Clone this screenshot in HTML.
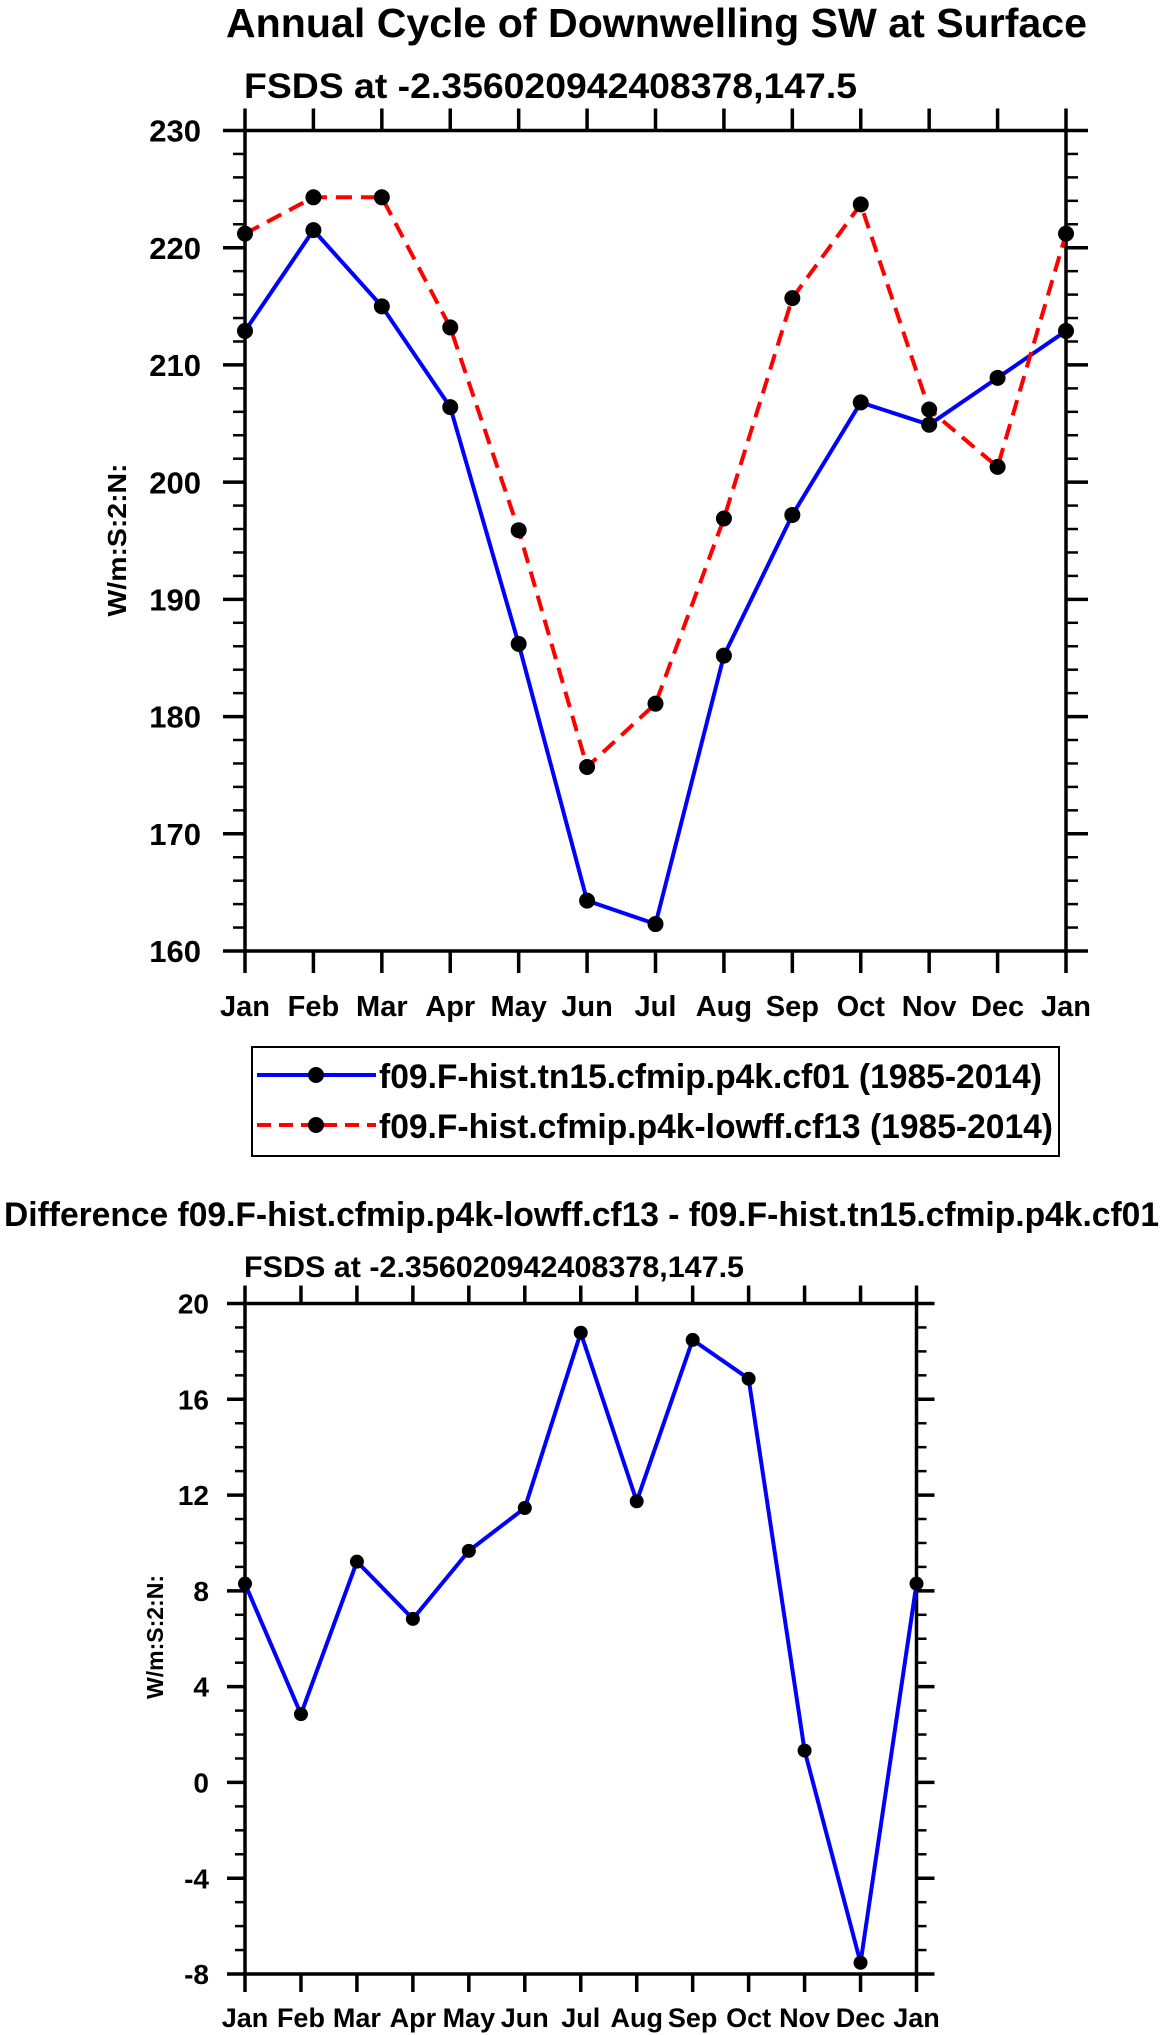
<!DOCTYPE html>
<html><head><meta charset="utf-8"><style>
html,body{margin:0;padding:0;background:#fff;}
svg{display:block;font-family:"Liberation Sans",Arial,sans-serif;font-weight:bold;}
</style></head><body>
<svg id="chart" width="1161" height="2035" viewBox="0 0 1161 2035" xmlns="http://www.w3.org/2000/svg">
<text x="226" y="37" font-size="41" textLength="861" lengthAdjust="spacingAndGlyphs">Annual Cycle of Downwelling SW at Surface</text>
<text x="244" y="98" font-size="35" textLength="613" lengthAdjust="spacingAndGlyphs">FSDS at -2.356020942408378,147.5</text>
<text x="4" y="1226" font-size="34" textLength="1155" lengthAdjust="spacingAndGlyphs">Difference f09.F-hist.cfmip.p4k-lowff.cf13 - f09.F-hist.tn15.cfmip.p4k.cf01</text>
<text x="244" y="1277" font-size="30" textLength="500" lengthAdjust="spacingAndGlyphs">FSDS at -2.356020942408378,147.5</text>
<g>
<rect x="252" y="1047" width="807" height="109" fill="none" stroke="#000" stroke-width="2"/>
<g>
<line x1="257" y1="1075" x2="376" y2="1075" stroke="#0000ff" stroke-width="4"/>
<circle cx="316" cy="1075" r="8" fill="#000"/>
<text x="379" y="1088" font-size="34" textLength="663" lengthAdjust="spacingAndGlyphs">f09.F-hist.tn15.cfmip.p4k.cf01 (1985-2014)</text>
</g>
<g>
<line x1="257" y1="1125" x2="376" y2="1125" stroke="#ff0000" stroke-width="4" stroke-dasharray="14,8"/>
<circle cx="316" cy="1125" r="8" fill="#000"/>
<text x="379" y="1138" font-size="34" textLength="674" lengthAdjust="spacingAndGlyphs">f09.F-hist.cfmip.p4k-lowff.cf13 (1985-2014)</text>
</g>
</g>
</svg>
<script>
const months = ["Jan","Feb","Mar","Apr","May","Jun","Jul","Aug","Sep","Oct","Nov","Dec","Jan"];
const cf01Values = [212.9,221.5,215.0,206.4,186.2,164.3,162.3,185.2,197.2,206.8,204.9,208.9,212.9];
const cf13Values = [221.2,224.3,224.3,213.2,195.9,175.7,181.1,196.9,215.7,223.7,206.2,201.3,221.2];
const diffValues = [8.30,2.85,9.22,6.83,9.67,11.46,18.78,11.74,18.48,16.86,1.33,-7.53,8.30];
const topYTicks = [160,170,180,190,200,210,220,230];
const diffYTicks = [-8,-4,0,4,8,12,16,20];

const NS="http://www.w3.org/2000/svg";
const svg=document.getElementById('chart');
function mk(tag,attrs,parent){const e=document.createElementNS(NS,tag);for(const k in attrs)e.setAttribute(k,attrs[k]);(parent||svg).appendChild(e);return e;}

function drawPanel(cfg){
  const g=mk('g',{});
  
  
  const xs=i=>cfg.L+(cfg.R-cfg.L)*i/(months.length-1);
  const ys=v=>cfg.B-(cfg.B-cfg.T)*(v-cfg.ymin)/(cfg.ymax-cfg.ymin);
  for(let v=cfg.ymin;v<=cfg.ymax+1e-9;v+=cfg.minor){
    const y=ys(v);
    const t1=mk('line',{x1:cfg.L-cfg.minLen,y1:y,x2:cfg.L,y2:y,stroke:'#000','stroke-width':2.5},g);
    
    
    const t2=mk('line',{x1:cfg.R,y1:y,x2:cfg.R+cfg.minLen,y2:y,stroke:'#000','stroke-width':2.5},g);
    
    
  }
  cfg.yticks.forEach(v=>{
    const y=ys(v);
    const t1=mk('line',{x1:cfg.L-cfg.majLen,y1:y,x2:cfg.L,y2:y,stroke:'#000','stroke-width':3.5},g);
    
    
    const t2=mk('line',{x1:cfg.R,y1:y,x2:cfg.R+cfg.majLen,y2:y,stroke:'#000','stroke-width':3.5},g);
    
    
    const lb=mk('text',{x:cfg.labRight,y:y+cfg.yfs*0.36,'font-size':cfg.yfs,'text-anchor':'end'},g);
    lb.textContent=String(v);
    
    
  });
  months.forEach((m,i)=>{
    const x=xs(i);
    const t1=mk('line',{x1:x,y1:cfg.T-cfg.majLen,x2:x,y2:cfg.T,stroke:'#000','stroke-width':3.5},g);
    
    
    const t2=mk('line',{x1:x,y1:cfg.B,x2:x,y2:cfg.B+cfg.majLen,stroke:'#000','stroke-width':3.5},g);
    
    
    const lb=mk('text',{x:x,y:cfg.xlabY,'font-size':cfg.xfs,'text-anchor':'middle'},g);
    lb.textContent=m;
    
    
  });
  const fr=mk('rect',{x:cfg.L,y:cfg.T,width:cfg.R-cfg.L,height:cfg.B-cfg.T,fill:'none',stroke:'#000','stroke-width':3.5},g);
  
  
  const yt=mk('text',{x:0,y:0,'font-size':cfg.ytfs,'text-anchor':'middle',transform:`translate(${cfg.ytX},${cfg.ytY}) rotate(-90)`,textLength:cfg.ytLen,lengthAdjust:'spacingAndGlyphs'},g);
  yt.textContent='W/m:S:2:N:';
  
  
  cfg.series.forEach(s=>{
    const pts=s.values.map((v,i)=>xs(i)+','+ys(v)).join(' ');
    const pl=mk('polyline',{points:pts,fill:'none',stroke:s.color,'stroke-width':cfg.lw,'stroke-dasharray':s.dash||'none','stroke-linejoin':'round'},g);
    
    
    s.values.forEach((v,i)=>{
      const c=mk('circle',{cx:xs(i),cy:ys(v),r:cfg.r,fill:'#000'},g);
      
      
    });
  });
}

drawPanel({name:'top-chart',L:245,R:1066,T:130.5,B:951,ymin:160,ymax:230,minor:2,yticks:topYTicks,
  majLen:22,minLen:12,labRight:201,yfs:31,xfs:29,xlabY:1016,ytfs:26,ytX:126,ytY:540,ytLen:153,r:8,lw:4,
  series:[{name:'cf01',values:cf01Values,color:'#0000ff'},{name:'cf13',values:cf13Values,color:'#ff0000',dash:'16,9'}]});
drawPanel({name:'diff-chart',L:245,R:916.5,T:1303.5,B:1974,ymin:-8,ymax:20,minor:1,yticks:diffYTicks,
  majLen:18,minLen:10,labRight:209,yfs:28,xfs:27,xlabY:2027,ytfs:23,ytX:163,ytY:1637,ytLen:124,r:7,lw:4,
  series:[{name:'difference',values:diffValues,color:'#0000ff'}]});
</script>
</body></html>
